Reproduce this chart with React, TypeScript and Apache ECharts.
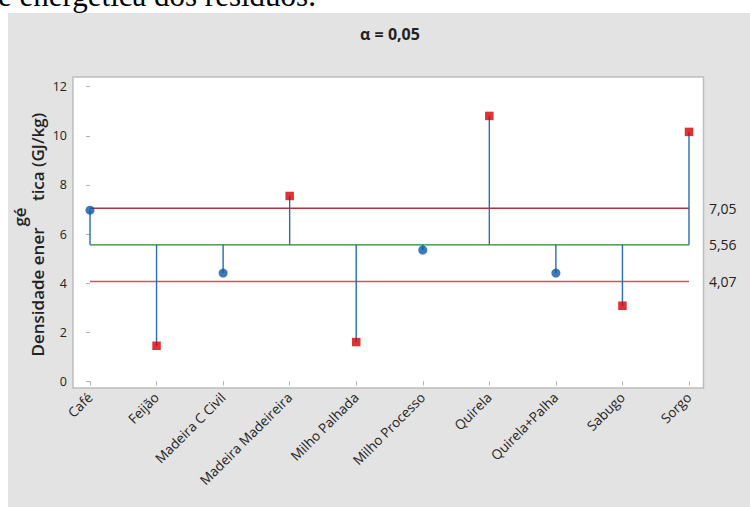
import React, { useEffect, useRef } from "react";
import * as echarts from "echarts";

const categories = ["Café", "Feijão", "Madeira C Civil", "Madeira Madeireira", "Milho Palhada", "Milho Processo", "Quirela", "Quirela+Palha", "Sabugo", "Sorgo"];
const values = [6.97, 1.45, 4.41, 7.55, 1.6, 5.35, 10.81, 4.41, 3.08, 10.16];
const centerLine = 5.56;
const upperLimit = 7.05;
const lowerLimit = 4.07;
const yTicks = [0, 2, 4, 6, 8, 10, 12];
const titleText = "α = 0,05";
const yNameParts = ["Densidade ener", "gé", "tica (GJ/kg)"];
const docText = "e energética dos resíduos.";

const FONT = "'Open Sans', 'Noto Sans', sans-serif";
const fmt = (v: number) => v.toFixed(2).replace(".", ",");

export default function App() {
  const ref = useRef<HTMLDivElement>(null);
  useEffect(() => {
    if (!ref.current) return;
    const chart = echarts.init(ref.current, null, { renderer: "svg" });
    const idx = categories.map((_, i) => i);
    const inside = idx.filter((i) => values[i] <= upperLimit && values[i] >= lowerLimit).map((i) => [i, values[i]]);
    const outside = idx.filter((i) => values[i] > upperLimit || values[i] < lowerLimit).map((i) => [i, values[i]]);
    const last = categories.length - 1;
    const limitLine = (v: number, color: string, width: number) => ({
      type: "line",
      data: [[0, v], [last, v]],
      symbol: "none",
      lineStyle: { color, width },
      z: 2,
      endLabel: {
        show: true,
        formatter: () => fmt(v),
        distance: 20,
        color: "#222",
        fontSize: 14,
        fontFamily: FONT,
      },
      silent: true,
    });
    const nameFont = `600 17px ${FONT}`;
    chart.setOption({
      animation: false,
      backgroundColor: "#ffffff",
      title: {
        text: titleText,
        left: 385,
        top: 21,
        textAlign: "center",
        textStyle: { fontSize: 16, fontWeight: "bold", color: "#222", fontFamily: FONT },
      },
      graphic: [
        {
          type: "rect",
          shape: { x: 8, y: 13, width: 742, height: 494 },
          style: { fill: "#e3e3e3" },
          z: -10,
          silent: true,
        },
        {
          type: "text",
          x: -2,
          y: 11,
          style: { text: docText, font: "31px 'Liberation Serif', 'Times New Roman', serif", fill: "#000", textVerticalAlign: "bottom" },
          z: 10,
        },
        {
          type: "text",
          x: 37,
          y: 292,
          rotation: Math.PI / 2,
          style: { text: yNameParts[0], font: nameFont, fill: "#222", textAlign: "center", textVerticalAlign: "middle" },
        },
        {
          type: "text",
          x: 19,
          y: 217,
          rotation: Math.PI / 2,
          style: { text: yNameParts[1], font: nameFont, fill: "#222", textAlign: "center", textVerticalAlign: "middle" },
        },
        {
          type: "text",
          x: 37,
          y: 157,
          rotation: Math.PI / 2,
          style: { text: yNameParts[2], font: nameFont, fill: "#222", textAlign: "center", textVerticalAlign: "middle" },
        },
      ],
      grid: {
        left: 73,
        right: 46.5,
        top: 77,
        bottom: 119,
        show: true,
        backgroundColor: "#ffffff",
        borderColor: "#bdbdbd",
        borderWidth: 1.5,
      },
      xAxis: {
        type: "value",
        min: -0.2555,
        max: 9.218,
        splitLine: { show: false },
        axisLine: { show: false },
        axisTick: { show: true, customValues: idx, length: 4, lineStyle: { color: "#b0b0b0" } },
        axisLabel: {
          customValues: idx,
          rotate: 45,
          margin: 7,
          fontSize: 13.5,
          color: "#222",
          fontFamily: FONT,
          formatter: (v: number) => categories[Math.round(v)] ?? "",
        },
      },
      yAxis: {
        type: "value",
        min: -0.27,
        max: 12.395,
        splitLine: { show: false },
        axisLine: { show: false },
        axisTick: { show: true, customValues: yTicks, length: 4, lineStyle: { color: "#b0b0b0" } },
        axisLabel: {
          customValues: yTicks,
          margin: 6,
          fontSize: 12.5,
          color: "#222",
          fontFamily: FONT,
        },
      },
      series: [
        limitLine(upperLimit, "#b8313a", 1.3),
        limitLine(lowerLimit, "#c8585e", 1.6),
        limitLine(centerLine, "#1e8a2e", 1.3),
        {
          type: "custom",
          data: values.map((v, i) => [i, v]),
          z: 3,
          silent: true,
          renderItem: (params: any, api: any) => {
            const x = api.value(0);
            const p0 = api.coord([x, centerLine]);
            const p1 = api.coord([x, api.value(1)]);
            return {
              type: "line",
              shape: { x1: p0[0], y1: p0[1], x2: p1[0], y2: p1[1] },
              style: { stroke: "#2a6cb8", lineWidth: 1.4 },
            };
          },
        },
        {
          type: "scatter",
          data: inside,
          symbol: "circle",
          symbolSize: 9,
          itemStyle: { color: "#0b57a8" },
          z: 5,
        },
        {
          type: "scatter",
          data: outside,
          symbol: "rect",
          symbolSize: 8.5,
          itemStyle: { color: "#d40000" },
          z: 5,
        },
      ],
    });
    return () => chart.dispose();
  }, []);
  return (
    <div
      ref={ref}
      style={{ position: "fixed", left: 0, top: 0, width: 750, height: 507 }}
    />
  );
}
